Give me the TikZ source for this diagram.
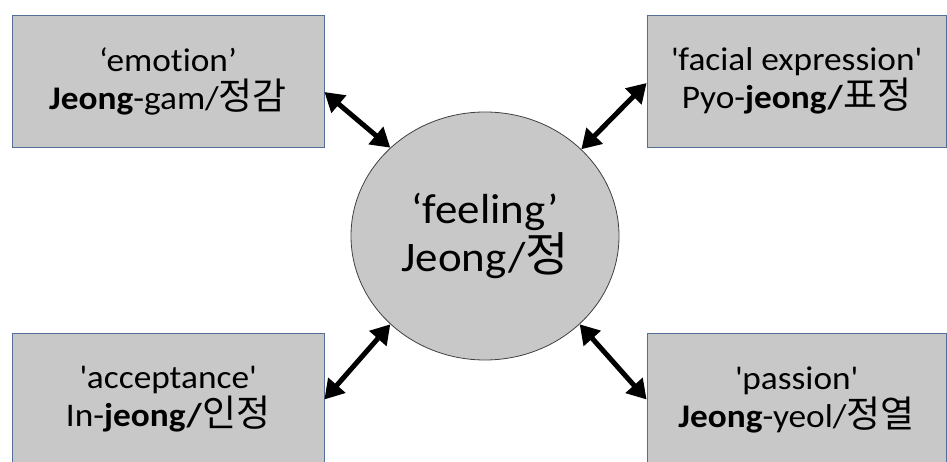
\documentclass[tikz,border=0pt]{standalone}
\usepackage{fontspec}
\setmainfont{Carlito}[FakeStretch=1.07,Ligatures={NoCommon}]
\newfontfamily\kr{Noto Sans CJK KR}[FakeStretch=1.0,Scale=1.12]
\usetikzlibrary{arrows.meta,shapes.geometric,calc}
\definecolor{boxfill}{RGB}{200,200,200}
\definecolor{boxline}{RGB}{84,110,150}
\tikzset{
  boxnode/.style={draw=boxline, line width=0.8pt, fill=boxfill, minimum height=132pt,
    inner sep=0pt, align=center, font=\fontsize{33}{38}\selectfont},
  hub/.style={ellipse, draw=black!75, line width=0.8pt, fill=boxfill, minimum width=268pt,
    minimum height=248pt, inner sep=0pt, align=center, font=\fontsize{42}{45}\selectfont},
  link/.style={line width=5pt, {Triangle[length=19pt,width=22pt]}-{Triangle[length=19pt,width=22pt]}}
}
\begin{document}
\begin{tikzpicture}[x=1pt,y=1pt]
\useasboundingbox (0,0) rectangle (947,462);
\clip (0,0) rectangle (947,462);
\node[boxnode, minimum width=312pt] (tl) at (168,381)
  {‘emotion’\\\textbf{Jeong}-gam/{\kr 정감}};
\node[boxnode, minimum width=299pt] (tr) at (796.5,381)
  {\textquotesingle facial expression\textquotesingle\\Pyo-\textbf{jeong/}{\kr 표정}};
\node[boxnode, minimum width=312pt] (bl) at (168,62.5)
  {\textquotesingle acceptance\textquotesingle\\In-\textbf{jeong/}{\kr 인정}};
\node[boxnode, minimum width=299pt] (br) at (796.5,62.5)
  {\textquotesingle passion\textquotesingle\\\textbf{Jeong}-yeol/{\kr 정열}};
\node[hub] (c) at (485,226) {‘feeling’\\Jeong/{\kr 정}};
\draw[link] ([yshift=-11pt]tl.east) -- (c.137);
\draw[link] ([yshift=-2pt]tr.west) -- (c.42);
\draw[link] (c.223) -- (bl.east);
\draw[link] (c.317) -- (br.west);
\end{tikzpicture}
\end{document}
